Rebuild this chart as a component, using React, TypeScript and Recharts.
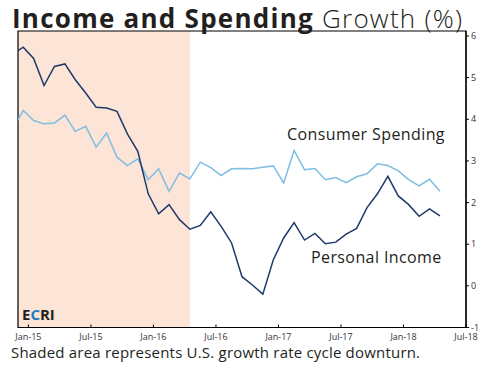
import { LineChart, Line, XAxis, YAxis, ReferenceArea } from "recharts";

// monthly readings, Nov-14 .. Apr-18 (first one sits just left of the frame)
const months = [
  "Nov-14", "Dec-14",
  "Jan-15", "Feb-15", "Mar-15", "Apr-15", "May-15", "Jun-15", "Jul-15", "Aug-15", "Sep-15", "Oct-15", "Nov-15", "Dec-15",
  "Jan-16", "Feb-16", "Mar-16", "Apr-16", "May-16", "Jun-16", "Jul-16", "Aug-16", "Sep-16", "Oct-16", "Nov-16", "Dec-16",
  "Jan-17", "Feb-17", "Mar-17", "Apr-17", "May-17", "Jun-17", "Jul-17", "Aug-17", "Sep-17", "Oct-17", "Nov-17", "Dec-17",
  "Jan-18", "Feb-18", "Mar-18", "Apr-18",
];

const personalIncome = [
  5.57, 5.73,
  5.46, 4.81, 5.27, 5.33, 4.95, 4.63, 4.29, 4.27, 4.19, 3.65, 3.23, 2.21,
  1.73, 1.95, 1.59, 1.36, 1.45, 1.78, 1.43, 1.03, 0.22, 0.02, -0.2, 0.62,
  1.15, 1.52, 1.1, 1.26, 1.01, 1.05, 1.24, 1.38, 1.88, 2.21, 2.63, 2.16,
  1.95, 1.67, 1.85, 1.68,
];

const consumerSpending = [
  3.77, 4.21,
  3.97, 3.89, 3.91, 4.1, 3.71, 3.83, 3.33, 3.67, 3.09, 2.89, 3.05, 2.55,
  2.81, 2.27, 2.71, 2.57, 2.97, 2.84, 2.65, 2.81, 2.82, 2.81, 2.85, 2.88,
  2.47, 3.25, 2.79, 2.82, 2.55, 2.6, 2.48, 2.62, 2.69, 2.93, 2.89, 2.76,
  2.55, 2.4, 2.56, 2.27,
];

const xTickLabels = ["Jan-15", "Jul-15", "Jan-16", "Jul-16", "Jan-17", "Jul-17", "Jan-18", "Jul-18"];
const yTicks = [-1, 0, 1, 2, 3, 4, 5, 6];

// shaded downturn, in months from Jan-15
const downturnStart = -1;
const downturnEnd = 15.5;

const data = months.map((m, i) => ({
  month: m,
  t: i - 1.5,
  income: personalIncome[i],
  spending: consumerSpending[i],
}));

const xTicks = xTickLabels.map((_, i) => i * 6);

const XTick = ({ x, y, payload }: any) => (
  <g>
    <line x1={x} x2={x} y1={y} y2={y - 3} stroke="#000" />
    <text x={x} y={y + 12} textAnchor="middle" fontSize={9} fill="#333" fontFamily="'Liberation Sans Narrow', 'Open Sans', sans-serif">
      {xTickLabels[xTicks.indexOf(payload.value)]}
    </text>
  </g>
);

export default function App() {
  const font = "'Open Sans', sans-serif";
  return (
    <div style={{ position: "relative", width: 495, height: 365, background: "#fff" }}>
      <style>{"body{margin:0}"}</style>
      <LineChart
        width={495}
        height={365}
        data={data}
        margin={{ top: 31, right: 0, left: 18, bottom: 0 }}
      >
        <ReferenceArea x1={downturnStart} x2={downturnEnd} y1={-1} y2={6.12} fill="#fce4d6" fillOpacity={1} stroke="none" />
        <ReferenceArea x1={-1} x2={42} y1={-1} y2={6.12} fill="none" stroke="#000" strokeWidth={1.2} />
        <XAxis
          dataKey="t"
          type="number"
          domain={[-1, 42]}
          allowDataOverflow
          ticks={xTicks}
          interval={0}
          tickSize={0}
          tickMargin={0}
          height={37.5}
          axisLine={{ stroke: "#000", strokeWidth: 1.2 }}
          tick={<XTick />}
        />
        <YAxis
          orientation="right"
          type="number"
          domain={[-1, 6.12]}
          allowDataOverflow
          ticks={yTicks}
          width={29}
          tickSize={3}
          tickMargin={2}
          axisLine={{ stroke: "#000", strokeWidth: 1.2 }}
          tickLine={{ stroke: "#000" }}
          tick={{ fontSize: 9, fill: "#333", fontFamily: font }}
        />
        <Line dataKey="spending" stroke="#7fbde4" strokeWidth={1.5} dot={false} isAnimationActive={false} />
        <Line dataKey="income" stroke="#1d3a6b" strokeWidth={1.5} dot={false} isAnimationActive={false} />
      </LineChart>
      <svg width={495} height={365} style={{ position: "absolute", left: 0, top: 0, pointerEvents: "none" }}>
        <text x={12} y={28} fontSize={26} fontFamily={font} fill="#231f20" letterSpacing={1.25}>
          <tspan fontWeight={700}>Income and Spending</tspan>
          <tspan fontWeight={300}> Growth (%)</tspan>
        </text>
        <text x={287} y={140} fontSize={16} fontFamily={font} fill="#231f20" letterSpacing={0.4}>Consumer Spending</text>
        <text x={311} y={263} fontSize={16} fontFamily={font} fill="#231f20" letterSpacing={0.4}>Personal Income</text>
        <text x={22} y={320} fontSize={15} fontWeight={700} fontFamily={font}>
          <tspan fill="#231f20">E</tspan>
          <tspan fill="#1b7dc2">C</tspan>
          <tspan fill="#231f20">RI</tspan>
        </text>
        <text x={11} y={358} fontSize={15} fontFamily={font} fill="#231f20" letterSpacing={0.2}>
          Shaded area represents U.S. growth rate cycle downturn.
        </text>
      </svg>
    </div>
  );
}
